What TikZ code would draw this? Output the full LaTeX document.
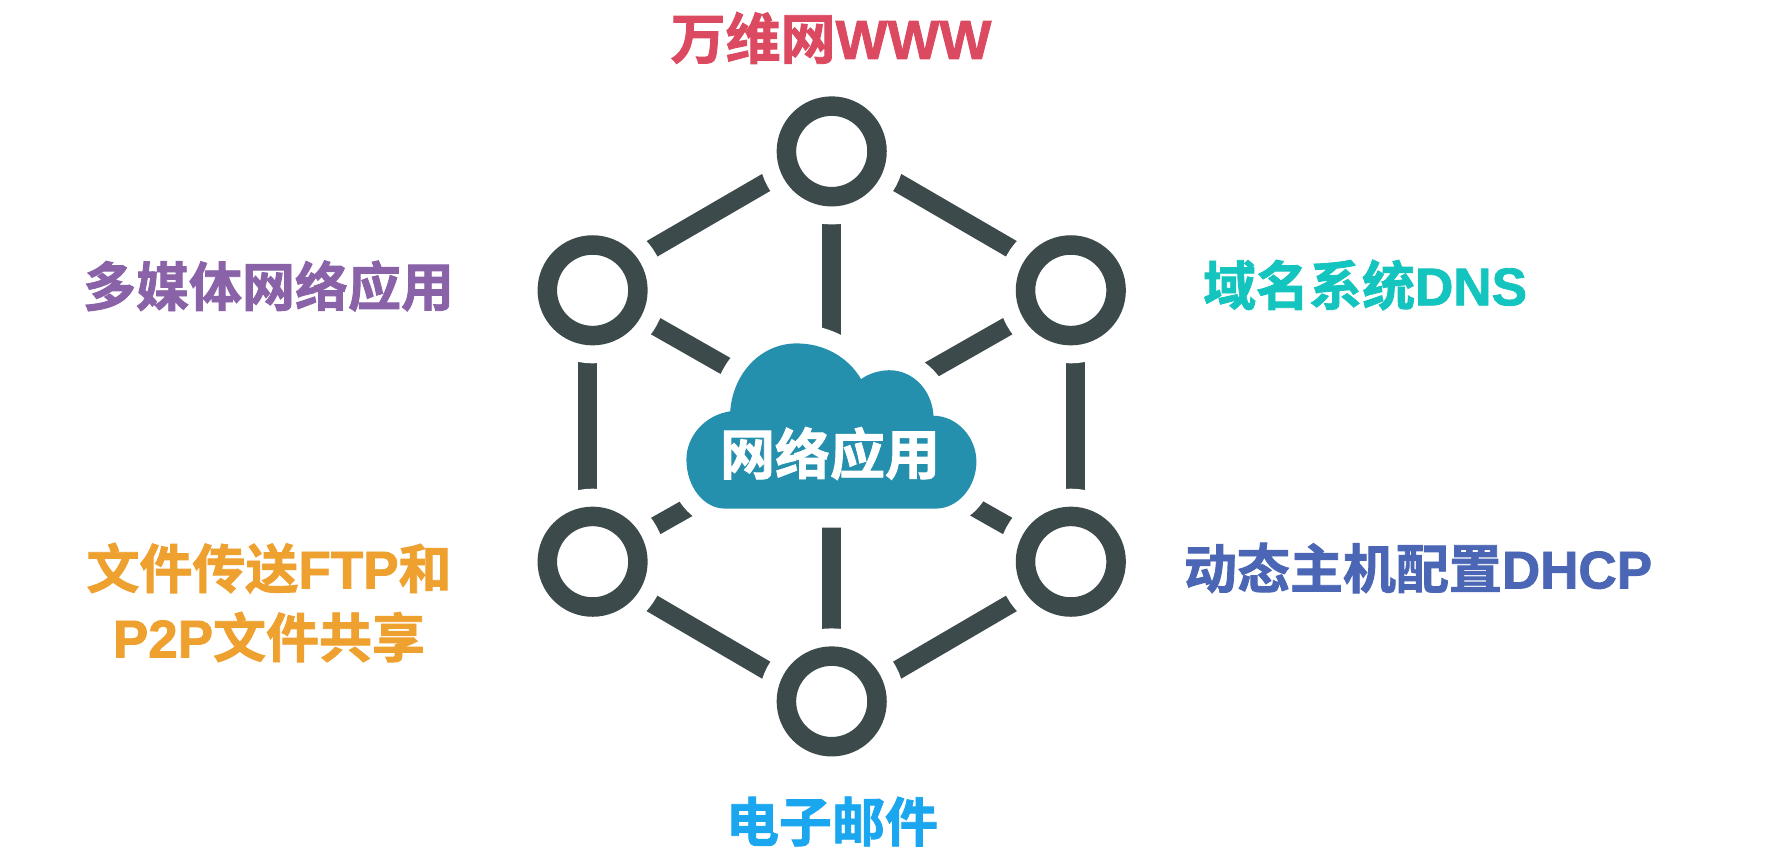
\documentclass[tikz,border=0pt]{standalone}
\usepackage{fontspec}
\usetikzlibrary{calc}
\newfontfamily\cjk{Noto Sans CJK SC Bold}[FakeBold=1.6]
\newfontfamily\lat{Liberation Sans Bold}[FakeBold=1.6]
\newcommand{\La}[1]{{\lat #1}}
\pgfdeclarelayer{linklayer}
\pgfsetlayers{linklayer,main}
\definecolor{ringc}{HTML}{3D4A4C}
\definecolor{cloudc}{HTML}{2590AE}
\definecolor{cwww}{HTML}{DC4A62}
\definecolor{cmedia}{HTML}{8A62A8}
\definecolor{cdns}{HTML}{14C4BE}
\definecolor{cdhcp}{HTML}{4A66B4}
\definecolor{cftp}{HTML}{EFA130}
\definecolor{cmail}{HTML}{1AA7F0}
\tikzset{
  ring/.style={circle,draw=ringc,line width=19.5pt,fill=white,minimum size=90.6pt,inner sep=0pt,outer sep=0pt,
    preaction={draw=white,line width=55.4pt}},
  link/.style={draw=ringc,line width=18.8pt},
  lab/.style={font=\cjk\fontsize{53}{69}\selectfont,align=center,inner sep=0pt},
  labbig/.style={font=\cjk\fontsize{55}{69}\selectfont,align=center,inner sep=0pt},
}
\begin{document}
\begin{tikzpicture}[x=1pt,y=-1pt]
\useasboundingbox (0,0) rectangle (1776,860);
\begin{pgfonlayer}{linklayer}
\fill[white] (0,0) rectangle (1776,860);
\end{pgfonlayer}
% rings
\node[ring] (t) at (831.7,151.4) {};
\node[ring] (ul) at (592.6,290.3) {};
\node[ring] (ur) at (1070.8,290.3) {};
\node[ring] (ll) at (592.6,561.7) {};
\node[ring] (lr) at (1070.8,561.7) {};
\node[ring] (b) at (831.7,701.4) {};
\coordinate (c) at (831.7,426.4);
% connectors
\begin{pgfonlayer}{linklayer}
\draw[link] ($(t.center)+(0,-7)$) -- ($(ul.center)+(0,-7)$);
\draw[link] ($(t.center)+(0,-7)$) -- ($(ur.center)+(0,-7)$);
\draw[link] ($(b.center)+(0,7)$) -- ($(ll.center)+(0,7)$);
\draw[link] ($(b.center)+(0,7)$) -- ($(lr.center)+(0,7)$);
\draw[link] ($(ul.center)+(-5,0)$) -- ($(ll.center)+(-5,0)$);
\draw[link] ($(ur.center)+(5,0)$) -- ($(lr.center)+(5,0)$);
\draw[link] (t.center) -- (c);
\draw[link] (b.center) -- (c);
\draw[link] (ul.center) -- (c);
\draw[link] (ur.center) -- (c);
\draw[link] (ll.center) -- (c);
\draw[link] (lr.center) -- (c);
\end{pgfonlayer}
% cloud
\path[fill=cloudc,preaction={draw=white,line width=38pt,line join=round}]
  (725,508.6) -- (935.6,508.6)
  .. controls (958,508.6) and (976.4,487) .. (976.4,461.7)
  .. controls (976.4,437) and (957,416) .. (933.5,415.7)
  .. controls (932,390) and (913,370.2) .. (889.3,370.2)
  .. controls (879,370.2) and (868,374) .. (861.1,379.1)
  .. controls (848,357) and (824,343.4) .. (796.7,343.4)
  .. controls (761,343.4) and (733,373) .. (730.2,411.3)
  .. controls (705,415) and (686.4,436) .. (686.4,459.5)
  .. controls (686.4,487) and (704,508.6) .. (725,508.6) -- cycle;
\node[labbig,text=white] (cloudtext) at (830,453.5) {网络应用};
% labels
\node[labbig,text=cwww] (www) at (831,38) {万维网\La{WWW}};
\node[lab,text=cmedia] (media) at (268.5,286) {多媒体网络应用};
\node[lab,text=cdns] (dns) at (1365,285) {域名系统\La{DNS}};
\node[lab,text=cdhcp] (dhcp) at (1418,568) {动态主机配置\La{DHCP}};
\node[lab,text=cftp] (ftp) at (269,602.5) {文件传送\La{FTP}和\\\La{P2P}文件共享};
\node[lab,text=cmail] (mail) at (832,821.5) {电子邮件};
\end{tikzpicture}
\end{document}
